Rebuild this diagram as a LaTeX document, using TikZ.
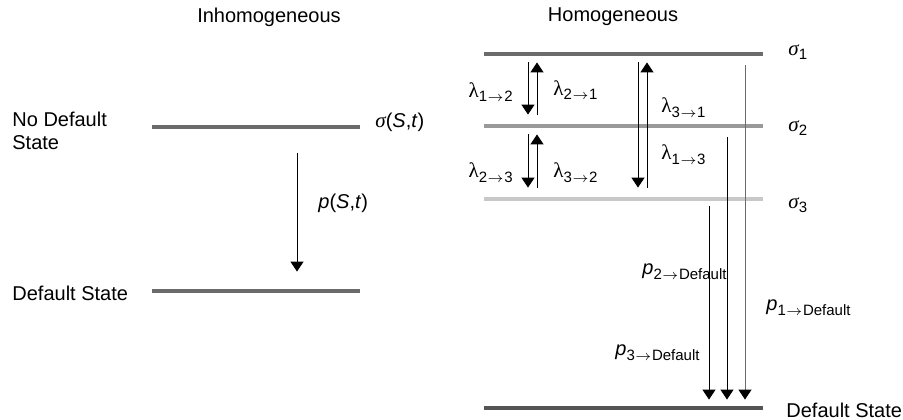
\documentclass[tikz,border=0pt]{standalone}
\usepackage{fontspec}
\setmainfont{Liberation Sans}
\newfontfamily\greekfont{Liberation Serif}
\usetikzlibrary{arrows.meta}
\definecolor{levelDark}{HTML}{555555}
\definecolor{levelMid}{HTML}{6B6B6B}
\definecolor{levelSoft}{HTML}{999999}
\definecolor{levelPale}{HTML}{C8C8C8}

\newcommand{\lowsub}[1]{\raisebox{-0.45ex}{\fontsize{7.5pt}{8pt}\selectfont #1}}
\newcommand{\tosub}{\kern0.3pt\(\rightarrow\)\kern0.3pt}
\newcommand{\lam}[2]{{\greekfont\fontsize{10.5pt}{11.5pt}\selectfont λ}\lowsub{#1\tosub#2}}
\newcommand{\sig}[1]{{\greekfont\itshape\fontsize{10.5pt}{11.5pt}\selectfont σ}\lowsub{#1}}
\newcommand{\pdef}[1]{\textit{p}\lowsub{#1\tosub Default}}

\begin{document}
\begin{tikzpicture}[
    x=0.5pt, y=-0.5pt,
    level/.style = {
      fill=#1,
      inner sep=0pt,
      minimum height=2pt
    },
    lbl/.style = {
      inner sep=0pt,
      font=\fontsize{10pt}{11.5pt}\selectfont
    },
    arr/.style = {-{Triangle[width=6.5pt,length=5pt,color=black]}, line width=0.5pt}
  ]
\useasboundingbox (0,0) rectangle (903,419);

% inhomogeneous
\node[lbl] (inhom) at (269,17) {Inhomogeneous};
\node[level=levelMid, minimum width=104pt] (nodefault) at (256,127) {};
\node[level=levelMid, minimum width=104pt] (default) at (256,291) {};
\node[lbl, anchor=west, align=left] (nodeflbl) at (12,131) {No Default\\State};
\node[lbl, anchor=west] (deflbl) at (12,293) {Default State};
\node[lbl, anchor=west] (sigst) at (375,122) {{\greekfont\itshape\fontsize{10.5pt}{11.5pt}\selectfont σ}(\textit{S},\textit{t})};
\node[lbl, anchor=west] (pst) at (318,203) {\textit{p}(\textit{S},\textit{t})};
\draw[arr, shorten <=12pt, shorten >=8.5pt] (297,0 |- nodefault.south) -- (297,0 |- default.north);

% homogeneous
\node[lbl] (hom) at (613,17) {Homogeneous};
\node[level=levelMid, minimum width=139.5pt] (s1) at (623.5,54) {};
\node[level=levelSoft, minimum width=139.5pt] (s2) at (623.5,126) {};
\node[level=levelPale, minimum width=139.5pt] (s3) at (623.5,199) {};
\node[level=levelDark, minimum width=139.5pt] (sdef) at (623.5,408) {};

\node[lbl, anchor=base west] (s1lbl) at (788,55) {\sig{1}};
\node[lbl, anchor=base west] (s2lbl) at (788,131) {\sig{2}};
\node[lbl, anchor=base west] (s3lbl) at (788,208) {\sig{3}};
\node[lbl, anchor=west] (sdeflbl) at (786,410) {Default State};

\draw[arr, shorten <=3pt, shorten >=4.5pt] (528,0 |- s1.south) -- (528,0 |- s2.north);
\draw[arr, shorten <=4.5pt, shorten >=3pt] (537,0 |- s2.north) -- (537,0 |- s1.south);
\draw[arr, shorten <=3pt, shorten >=4.5pt] (528,0 |- s2.south) -- (528,0 |- s3.north);
\draw[arr, shorten <=4.5pt, shorten >=3pt] (537,0 |- s3.north) -- (537,0 |- s2.south);
\draw[arr, shorten <=3pt, shorten >=4.5pt] (638,0 |- s1.south) -- (638,0 |- s3.north);
\draw[arr, shorten <=4.5pt, shorten >=3pt] (647,0 |- s3.north) -- (647,0 |- s1.south);

\node[lbl, anchor=east] (l12) at (513,92) {\lam{1}{2}};
\node[lbl, anchor=west] (l21) at (553,90) {\lam{2}{1}};
\node[lbl, anchor=west] (l31) at (661,108) {\lam{3}{1}};
\node[lbl, anchor=east] (l23) at (513,173) {\lam{2}{3}};
\node[lbl, anchor=west] (l32) at (553,173) {\lam{3}{2}};
\node[lbl, anchor=west] (l13) at (661,155) {\lam{1}{3}};

\draw[arr, draw=levelMid, shorten <=4.5pt, shorten >=3pt] (745,0 |- s1.south) -- (745,0 |- sdef.north);
\draw[arr, shorten <=4.5pt, shorten >=3pt] (727,0 |- s2.south) -- (727,0 |- sdef.north);
\draw[arr, shorten <=2.5pt, shorten >=3pt] (709,0 |- s3.south) -- (709,0 |- sdef.north);

\node[lbl, anchor=west] (p2) at (642,272) {\pdef{2}};
\node[lbl, anchor=west] (p1) at (766,308) {\pdef{1}};
\node[lbl, anchor=west] (p3) at (615,353) {\pdef{3}};
\end{tikzpicture}
\end{document}
